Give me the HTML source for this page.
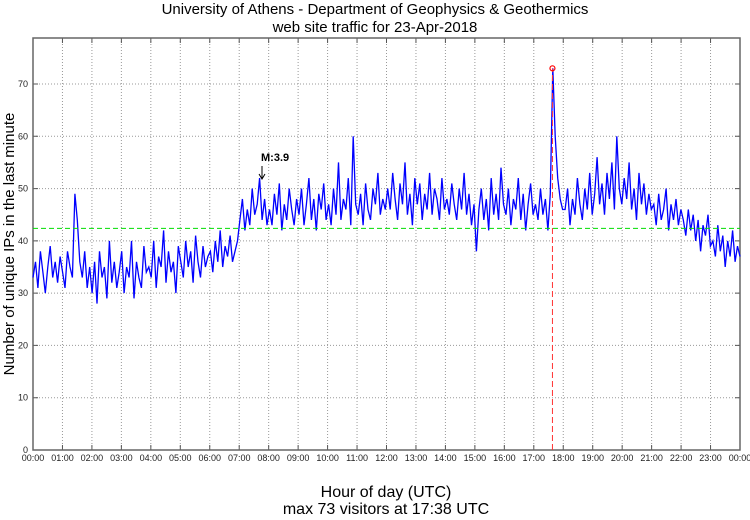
<!DOCTYPE html>
<html><head><meta charset="utf-8"><style>
body{margin:0;background:#fff;font-family:"Liberation Sans",sans-serif}
</style></head><body>
<svg id="c" width="750" height="515" xmlns="http://www.w3.org/2000/svg" font-family="Liberation Sans, sans-serif">
<text x="375" y="14" font-size="15" text-anchor="middle">University of Athens - Department of Geophysics &amp; Geothermics</text>
<text x="375" y="32" font-size="15" text-anchor="middle">web site traffic for 23-Apr-2018</text>
<text transform="translate(14,244) rotate(-90)" font-size="15" text-anchor="middle">Number of unique IPs in the last minute</text>
<text x="386" y="497" font-size="16" text-anchor="middle">Hour of day (UTC)</text>
<text x="386" y="514" font-size="16" text-anchor="middle">max 73 visitors at 17:38 UTC</text>
<g id="grid"></g><g id="plot"></g>
</svg>
<script>
const hours=["00:00","01:00","02:00","03:00","04:00","05:00","06:00","07:00","08:00","09:00","10:00","11:00","12:00","13:00","14:00","15:00","16:00","17:00","18:00","19:00","20:00","21:00","22:00","23:00","00:00"];
const yTicks=[0,10,20,30,40,50,60,70];
const meanValue=[42.4];
const maxInfo=[17+38/60,73];
const visitors=[
33,36,31,38,34,30,35,39,33,36,32,37,
34,31,38,35,33,49,44,36,33,38,31,35,
30,36,28,38,33,35,29,40,32,36,31,34,
38,30,35,33,40,29,36,33,31,39,34,35,
33,40,31,37,35,42,32,38,34,36,30,39,
36,33,40,35,38,32,41,36,33,39,35,37,
38,34,40,36,42,35,39,37,41,36,38,40,
44,48,42,46,43,50,45,47,52,44,48,43,
46,43,49,45,51,42,47,44,50,46,43,48,
45,50,43,47,52,44,48,42,49,46,51,44,
47,43,50,45,55,44,48,46,52,43,60,47,
45,49,43,51,46,44,50,47,53,45,48,46,
50,46,53,48,44,51,47,55,45,49,43,52,
47,51,44,49,46,53,45,50,48,44,52,46,
48,45,51,47,44,50,46,53,45,49,43,47,
38,46,50,44,48,42,52,45,49,44,54,47,
45,50,43,48,46,52,44,49,42,47,51,45,
47,44,50,45,48,42,49,73,60,52,48,46,
46,50,43,48,45,52,47,44,50,46,53,45,
49,56,47,51,45,53,48,55,46,60,50,47,
52,48,55,46,50,44,53,47,51,45,49,46,
47,43,49,44,46,50,42,47,44,48,43,46,
44,41,46,42,45,40,44,38,43,41,45,39,
40,37,43,38,41,35,40,37,42,36,39,37];
const L=33,R=740,T=38,B=450,YMAX=78.8;
const X=h=>L+h/24*(R-L), Y=v=>B-v/YMAX*(B-T);
const NS="http://www.w3.org/2000/svg";
function mk(t,a,p){const e=document.createElementNS(NS,t);for(const k in a)e.setAttribute(k,a[k]);p.appendChild(e);return e;}
const g=document.getElementById('grid'),p=document.getElementById('plot');
hours.forEach((h,i)=>{const x=X(i);
 if(i>0&&i<24){const l=mk('line',{x1:x,x2:x,y1:T,y2:B,stroke:'#999','stroke-dasharray':'1,2'},g);
 }
 const tk=mk('path',{d:`M${x},${B}v-5M${x},${T}v5`,stroke:'#555'},g);
 
 const t=mk('text',{x:x,y:B+11,'font-size':9,'text-anchor':'middle',fill:'#222'},g);t.textContent=h;
 });
yTicks.forEach(v=>{const y=Y(v);
 if(v>0){const l=mk('line',{x1:L,x2:R,y1:y,y2:y,stroke:'#999','stroke-dasharray':'1,2'},g);
 }
 const tk=mk('path',{d:`M${L},${y}h5M${R},${y}h-5`,stroke:'#555'},g);
 
 const t=mk('text',{x:L-5,y:y+3,'font-size':9,'text-anchor':'end',fill:'#222'},g);t.textContent=v;
 });
const fr=mk('rect',{x:L,y:T,width:R-L,height:B-T,fill:'none',stroke:'#666','stroke-width':1.5},g);

const n=visitors.length;
const pts=visitors.map((v,i)=>X(i*24/(n-1)).toFixed(1)+','+Y(v).toFixed(1)).join(' ');
const ln=mk('polyline',{points:pts,fill:'none',stroke:'#0000ff','stroke-width':1.3},p);

const ml=mk('line',{x1:L,x2:R,y1:Y(meanValue[0]),y2:Y(meanValue[0]),stroke:'#00dd00','stroke-dasharray':'5,3'},p);

const mx=X(maxInfo[0]),my=Y(maxInfo[1]);
const vl=mk('line',{x1:mx,x2:mx,y1:B,y2:my,stroke:'#ff3333','stroke-dasharray':'6,3'},p);

const mc=mk('circle',{cx:mx,cy:my,r:2.5,fill:'none',stroke:'#ff0000','stroke-width':1.2},p);

const at=mk('text',{x:261,y:161,'font-size':11,'font-weight':'bold'},p);at.textContent='M:3.9';

const ar=mk('path',{d:'M262,166v12M259,174l3,5l3,-5',stroke:'#000',fill:'none'},p);

</script>
</body></html>
